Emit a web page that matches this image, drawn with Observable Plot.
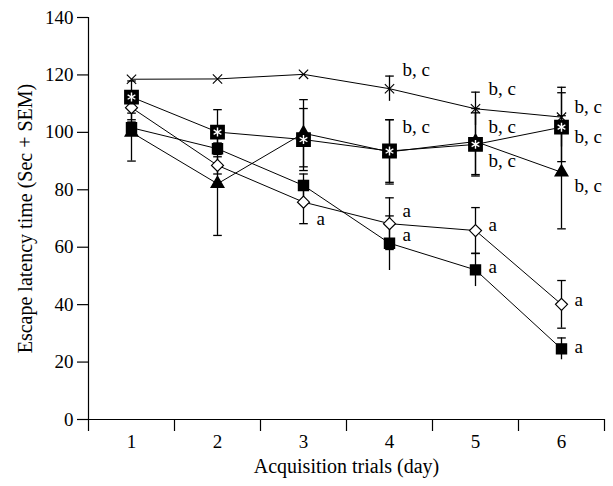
<!DOCTYPE html>
<html>
<head>
<meta charset="utf-8">
<script src="https://cdn.jsdelivr.net/npm/d3@7"></script>
<script src="https://cdn.jsdelivr.net/npm/@observablehq/plot@0.6"></script>
<style>
  html, body { margin: 0; padding: 0; background: #fff; }
  #chart svg { display: block; }
</style>
</head>
<body>
<div id="chart"></div>
<script>
// ---- data ----
const days = [1, 2, 3, 4, 5, 6];
const yTicks = [0, 20, 40, 60, 80, 100, 120, 140];

const crossMean = [118.5, 118.6, 120.2, 115.2, 108.2, 105.3];
const crossSem  = [0, 0, 0, 4.4, 5.8, 10.4];

const starMean  = [112.3, 100.1, 97.5, 93.5, 95.8, 101.8];
const starSem   = [5.6, 7.8, 10.8, 10.9, 11.0, 12.0];

const triMean   = [100.0, 82.1, 99.7, 93.2, 96.8, 86.1];
const triSem    = [10.0, 18.0, 11.7, 11.2, 11.5, 19.7];

const diaMean   = [108.6, 88.5, 75.7, 68.2, 65.8, 40.1];
const diaSem    = [4.2, 3.0, 7.5, 9.0, 8.0, 8.3];

const sqMean    = [101.6, 94.3, 81.5, 61.4, 52.1, 24.6];
const sqSem     = [2.0, 2.0, 4.0, 9.5, 5.8, 3.8];

const labelDay  = [3, 4, 4, 4, 4, 5, 5, 5, 5, 5, 6, 6, 6, 6, 6];
const labelY    = [69.7, 121.6, 101.8, 72.5, 64.3, 115.2, 101.8, 90.2, 67.6, 53.0, 108.8, 98.3, 81.5, 41.8, 25.2];
const labelText = ["a", "b, c", "b, c", "a", "a", "b, c", "b, c", "b, c", "a", "a", "b, c", "b, c", "b, c", "a", "a"];

const xTitle = "Acquisition trials (day)";
const yTitle = "Escape latency time (Sec + SEM)";

// ---- build tables ----
const rows = (mean, sem) => days.map((d, i) => ({day: d, mean: mean[i], sem: sem[i]}));
const cross = rows(crossMean, crossSem);
const star  = rows(starMean, starSem);
const tri   = rows(triMean, triSem);
const dia   = rows(diaMean, diaSem);
const sq    = rows(sqMean, sqSem);
const labels = labelDay.map((d, i) => ({day: d, y: labelY[i], text: labelText[i]}));

// horizontal cap symbol for error bars
const capSymbol = {
  draw(context, size) {
    const h = Math.sqrt(size / Math.PI);
    context.moveTo(-h, 0);
    context.lineTo(h, 0);
  }
};

const FONT = "Liberation Serif";
const FS = 19;
const TFS = 20;

function errorMarks(data, lowerCap) {
  const withSem = data.filter(d => d.sem > 0);
  const marks = [
    Plot.ruleX(withSem, {x: "day", y1: d => d.mean - d.sem, y2: d => d.mean + d.sem, stroke: "black", strokeWidth: 1.3}),
    Plot.dot(withSem, {x: "day", y: d => d.mean + d.sem, symbol: capSymbol, r: 4.3, stroke: "black", strokeWidth: 1.3, fill: "none"})
  ];
  if (lowerCap) marks.push(Plot.dot(withSem, {x: "day", y: d => d.mean - d.sem, symbol: capSymbol, r: 4.3, stroke: "black", strokeWidth: 1.3, fill: "none"}));
  return marks;
}

const lineOpts = {x: "day", y: "mean", stroke: "black", strokeWidth: 1};

const chart = Plot.plot({
  width: 613,
  height: 486,
  marginLeft: 88,
  marginRight: 9,
  marginTop: 17,
  marginBottom: 67,
  style: {fontFamily: FONT, fontSize: FS + "px", color: "black", background: "white"},
  x: {domain: [0.5, 6.5]},
  y: {domain: [0, 140]},
  marks: [
    Plot.ruleX([0.5], {stroke: "black", strokeWidth: 1.2}),
    Plot.ruleY([0], {stroke: "black", strokeWidth: 1.2}),
    Plot.axisY({ticks: yTicks, tickSize: 11, tickPadding: 4, strokeWidth: 1.2, fontSize: FS, color: "black", label: null}),
    Plot.axisX({ticks: [0.5, 1.5, 2.5, 3.5, 4.5, 5.5, 6.5], tickSize: 12, strokeWidth: 1.2, tickFormat: () => "", label: null, color: "black"}),
    Plot.axisX({ticks: days, tickSize: 0, tickPadding: 15, fontSize: FS, tickFormat: d3.format("d"), color: "black", label: null}),

    // axis titles
    Plot.text([xTitle], {frameAnchor: "bottom", dy: 47, fontSize: TFS, fill: "black", textAnchor: "middle", lineAnchor: "middle"}),
    Plot.text([yTitle], {frameAnchor: "left", dx: -63, rotate: -90, fontSize: TFS, fill: "black", textAnchor: "middle", lineAnchor: "middle"}),

    Plot.line(tri, lineOpts),
    Plot.line(sq, lineOpts),
    Plot.line(dia, lineOpts),
    Plot.line(cross, lineOpts),
    Plot.line(star, lineOpts),

    ...errorMarks(tri, true),
    ...errorMarks(sq, false),
    ...errorMarks(dia, true),
    ...errorMarks(cross, false),
    ...errorMarks(star, true),

    Plot.dot(tri, {x: "day", y: "mean", symbol: "triangle", r: 4.6, fill: "black", stroke: "black"}),
    Plot.dot(sq, {x: "day", y: "mean", symbol: "square", r: 5.6, fill: "black", stroke: "black"}),
    Plot.dot(dia, {x: "day", y: "mean", symbol: "diamond2", r: 5.4, fill: "white", stroke: "black", strokeWidth: 1.2}),
    Plot.dot(cross, {x: "day", y: "mean", symbol: "times", r: 4.3, fill: "none", stroke: "black", strokeWidth: 1.1}),
    Plot.dot(star, {x: "day", y: "mean", symbol: "square", r: 7.5, fill: "black", stroke: "black"}),
    Plot.dot(star, {x: "day", y: "mean", symbol: "asterisk", r: 4.2, fill: "none", stroke: "white", strokeWidth: 1.4}),

    Plot.text(labels, {x: "day", y: "y", text: "text", dx: 13, textAnchor: "start", fontSize: FS, fill: "black"})
  ]
});

document.getElementById("chart").appendChild(chart);
</script>
</body>
</html>
